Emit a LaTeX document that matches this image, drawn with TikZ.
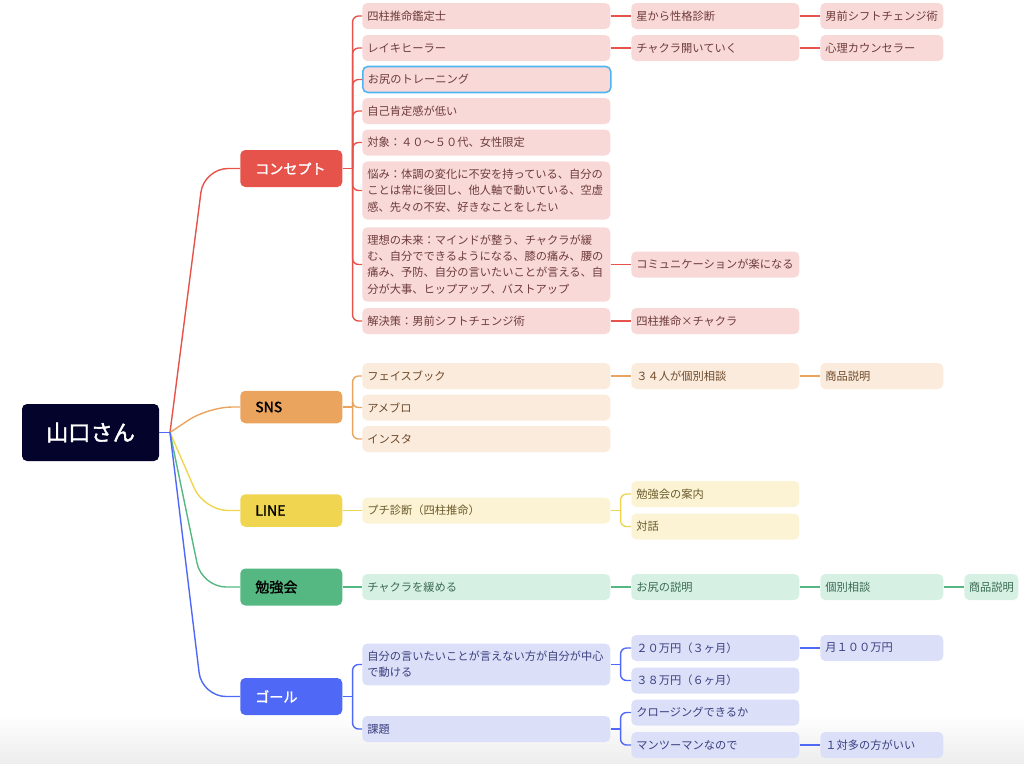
\documentclass[tikz,border=0pt]{standalone}
\usepackage{fontspec}
\setmainfont{Noto Sans CJK JP}
\newfontfamily\topicfont[FakeBold=1.6]{Noto Sans CJK JP}
\usepackage{tikz}
\newlength{\unitpx}
\setlength{\unitpx}{0.025cm}
\definecolor{RootC}{HTML}{03032B}
\definecolor{ConceptC}{HTML}{E5534B}
\definecolor{ConceptL}{HTML}{F8D9D8}
\definecolor{ConceptT}{HTML}{6E3B3B}
\definecolor{SnsC}{HTML}{EBA45E}
\definecolor{SnsL}{HTML}{FBEBDD}
\definecolor{SnsT}{HTML}{6E4A2B}
\definecolor{LineC}{HTML}{F0D550}
\definecolor{LineL}{HTML}{FCF3D5}
\definecolor{LineT}{HTML}{6B5B2A}
\definecolor{StudyC}{HTML}{55B882}
\definecolor{StudyL}{HTML}{D6F0E4}
\definecolor{StudyT}{HTML}{3B6B52}
\definecolor{GoalC}{HTML}{4F68F6}
\definecolor{GoalL}{HTML}{DBE0F8}
\definecolor{GoalT}{HTML}{3A3F80}
\definecolor{SelectC}{HTML}{4FB4F4}
\tikzstyle{Root}=[rectangle, rounded corners=5\unitpx, minimum width=137\unitpx, minimum height=57\unitpx, fill=RootC, text=white, font=\fontsize{15.8}{18}\topicfont]
\tikzstyle{Topic}=[rectangle, rounded corners=5\unitpx, anchor=west, text width=72\unitpx, inner xsep=15\unitpx, minimum height=37\unitpx, align=left, font=\fontsize{10}{12}\topicfont]
\tikzstyle{Leaf}=[rectangle, rounded corners=5\unitpx, anchor=west, inner xsep=5\unitpx, inner ysep=7.5\unitpx, minimum height=26\unitpx, align=left, font=\fontsize{8}{11.6}\selectfont]
\tikzstyle{LeafA}=[Leaf, text width=238\unitpx]
\tikzstyle{LeafB}=[Leaf, text width=158\unitpx]
\tikzstyle{LeafC}=[Leaf, text width=113\unitpx]
\tikzstyle{RedLeaf}=[fill=ConceptL, text=ConceptT]
\tikzstyle{OrangeLeaf}=[fill=SnsL, text=SnsT]
\tikzstyle{YellowLeaf}=[fill=LineL, text=LineT]
\tikzstyle{GreenLeaf}=[fill=StudyL, text=StudyT]
\tikzstyle{BlueLeaf}=[fill=GoalL, text=GoalT]
\tikzstyle{Branch}=[line width=1pt, rounded corners=6\unitpx]

\begin{document}
\begin{tikzpicture}[x=\unitpx, y=-\unitpx]
    \useasboundingbox (0,0) rectangle (1024,763);
    \shade[top color=white, bottom color=black!7] (0,715) rectangle (1024,763);

    \path
    (90.5,432.5) node[Root] (root) {山口さん}
    (240,168.5) node[Topic, fill=ConceptC, text=white] (concept) {コンセプト}
    (240,407) node[Topic, fill=SnsC, text=black, minimum height=32.5\unitpx] (sns) {SNS}
    (240,510.5) node[Topic, fill=LineC, text=black, minimum height=32.5\unitpx] (line) {LINE}
    (240,587) node[Topic, fill=StudyC, text=black] (study) {勉強会}
    (240,696.5) node[Topic, fill=GoalC, text=white] (goal) {ゴール};

    % コンセプト
    \path (362,16) node[LeafA, RedLeaf] (c1) {四柱推命鑑定士}
    (362,48) node[LeafA, RedLeaf] (c2) {レイキヒーラー}
    (362,79.5) node[LeafA, RedLeaf, draw=SelectC, line width=1.1pt] (c3) {お尻のトレーニング}
    (362,111) node[LeafA, RedLeaf] (c4) {自己肯定感が低い}
    (362,142.5) node[LeafA, RedLeaf] (c5) {対象：４０〜５０代、女性限定}
    (362,190.5) node[LeafA, RedLeaf] (c6) {悩み：体調の変化に不安を持っている、自分の\\ことは常に後回し、他人軸で動いている、空虚\\感、先々の不安、好きなことをしたい}
    (362,264.5) node[LeafA, RedLeaf] (c7) {理想の未来：マインドが整う、チャクラが緩\\む、自分でできるようになる、膝の痛み、腰の\\痛み、予防、自分の言いたいことが言える、自\\分が大事、ヒップアップ、バストアップ}
    (362,321) node[LeafA, RedLeaf] (c8) {解決策：男前シフトチェンジ術}
    (631,16) node[LeafB, RedLeaf] (c1a) {星から性格診断}
    (631,48) node[LeafB, RedLeaf] (c2a) {チャクラ開いていく}
    (631,264.5) node[LeafB, RedLeaf] (c7a) {コミュニケーションが楽になる}
    (631,321) node[LeafB, RedLeaf] (c8a) {四柱推命×チャクラ}
    (820,16) node[LeafC, RedLeaf] (c1b) {男前シフトチェンジ術}
    (820,48) node[LeafC, RedLeaf] (c2b) {心理カウンセラー};

    % SNS
    \path (362,376) node[LeafA, OrangeLeaf] (s1) {フェイスブック}
    (362,407.5) node[LeafA, OrangeLeaf] (s2) {アメブロ}
    (362,439) node[LeafA, OrangeLeaf] (s3) {インスタ}
    (631,376) node[LeafB, OrangeLeaf] (s1a) {３４人が個別相談}
    (820,376) node[LeafC, OrangeLeaf] (s1b) {商品説明};

    % LINE
    \path (362,510.5) node[LeafA, YellowLeaf] (l1) {プチ診断（四柱推命）}
    (631,494) node[LeafB, YellowLeaf] (l1a) {勉強会の案内}
    (631,526.5) node[LeafB, YellowLeaf] (l1b) {対話};

    % 勉強会
    \path (362,587) node[LeafA, GreenLeaf] (w1) {チャクラを緩める}
    (631,587) node[LeafB, GreenLeaf] (w1a) {お尻の説明}
    (820,587) node[LeafC, GreenLeaf] (w1b) {個別相談}
    (964,587) node[Leaf, GreenLeaf, inner xsep=4.5\unitpx] (w1c) {商品説明};

    % ゴール
    \path (362,664.5) node[LeafA, BlueLeaf] (g1) {自分の言いたいことが言えない方が自分が中心\\で動ける}
    (362,729) node[LeafA, BlueLeaf] (g2) {課題}
    (631,648) node[LeafB, BlueLeaf] (g1a) {２０万円（３ヶ月）}
    (631,680.5) node[LeafB, BlueLeaf] (g1b) {３８万円（６ヶ月）}
    (631,712.5) node[LeafB, BlueLeaf] (g2a) {クロージングできるか}
    (631,745) node[LeafB, BlueLeaf] (g2b) {マンツーマンなので}
    (820,648) node[LeafC, BlueLeaf] (g1c) {月１００万円}
    (820,745) node[LeafC, BlueLeaf] (g2c) {１対多の方がいい};

    % root to topics
    \coordinate (hub) at (170,432.5);
    \draw[line width=1pt, draw=ConceptC, rounded corners=24\unitpx] (hub) -- ([xshift=-36\unitpx]concept.west) -- (concept.west);
    \draw[line width=1pt, draw=SnsC, rounded corners=24\unitpx] (hub) -- ([xshift=-32\unitpx]sns.west) -- (sns.west);
    \draw[line width=1pt, draw=LineC, rounded corners=24\unitpx] (hub) -- ([xshift=-36\unitpx]line.west) -- (line.west);
    \draw[line width=1pt, draw=StudyC, rounded corners=24\unitpx] (hub) -- ([xshift=-38\unitpx]study.west) -- (study.west);
    \draw[line width=1pt, draw=GoalC, rounded corners=24\unitpx] (hub) -- ([xshift=-38\unitpx]goal.west) -- (goal.west);
    \draw[line width=1pt, draw=GoalC] (root.east) -- (hub);

    % topics to leaves
    \coordinate (cbus) at ([xshift=10\unitpx]concept.east);
    \draw[Branch, draw=ConceptC] (concept.east) -- (cbus);
    \foreach \n in {c1,c2,c3,c4,c5,c6,c7,c8}
        \draw[Branch, draw=ConceptC] (cbus) |- (\n.west);
    \foreach \a/\b in {c1/c1a,c2/c2a,c7/c7a,c8/c8a,c1a/c1b,c2a/c2b}
        \draw[Branch, draw=ConceptC] (\a.east) -- (\b.west);

    \coordinate (sbus) at ([xshift=10\unitpx]sns.east);
    \draw[Branch, draw=SnsC] (sns.east) -- (sbus);
    \foreach \n in {s1,s2,s3}
        \draw[Branch, draw=SnsC] (sbus) |- (\n.west);
    \draw[Branch, draw=SnsC] (s1.east) -- (s1a.west);
    \draw[Branch, draw=SnsC] (s1a.east) -- (s1b.west);

    \draw[Branch, draw=LineC] (line.east) -- (l1.west);
    \coordinate (lbus) at ([xshift=10\unitpx]l1.east);
    \draw[Branch, draw=LineC] (l1.east) -- (lbus);
    \foreach \n in {l1a,l1b}
        \draw[Branch, draw=LineC] (lbus) |- (\n.west);

    \draw[Branch, draw=StudyC] (study.east) -- (w1.west);
    \draw[Branch, draw=StudyC] (w1.east) -- (w1a.west);
    \draw[Branch, draw=StudyC] (w1a.east) -- (w1b.west);
    \draw[Branch, draw=StudyC] (w1b.east) -- (w1c.west);

    \coordinate (gbus) at ([xshift=10\unitpx]goal.east);
    \draw[Branch, draw=GoalC] (goal.east) -- (gbus);
    \foreach \n in {g1,g2}
        \draw[Branch, draw=GoalC] (gbus) |- (\n.west);
    \coordinate (g1bus) at ([xshift=10\unitpx]g1.east);
    \draw[Branch, draw=GoalC] (g1.east) -- (g1bus);
    \foreach \n in {g1a,g1b}
        \draw[Branch, draw=GoalC] (g1bus) |- (\n.west);
    \coordinate (g2bus) at ([xshift=10\unitpx]g2.east);
    \draw[Branch, draw=GoalC] (g2.east) -- (g2bus);
    \foreach \n in {g2a,g2b}
        \draw[Branch, draw=GoalC] (g2bus) |- (\n.west);
    \draw[Branch, draw=GoalC] (g1a.east) -- (g1c.west);
    \draw[Branch, draw=GoalC] (g2b.east) -- (g2c.west);
\end{tikzpicture}
\end{document}
